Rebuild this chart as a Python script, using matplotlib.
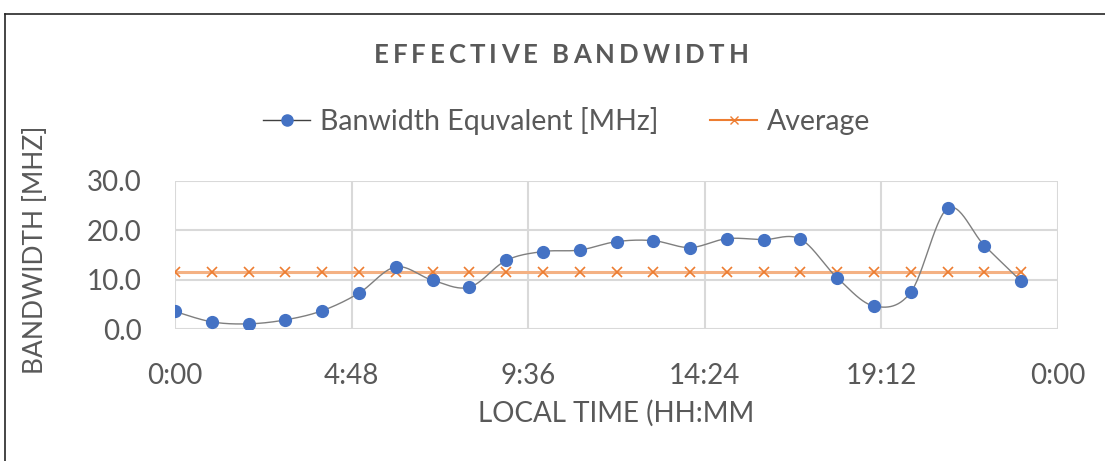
import numpy as np
import matplotlib
matplotlib.use("Agg")
import matplotlib.pyplot as plt
from matplotlib.font_manager import FontProperties
from matplotlib.lines import Line2D

plt.rcParams['font.family'] = ['Lato', 'DejaVu Sans']

# hourly samples, x in fractions of a day
hours = np.arange(24)
bandwidth = [3.6, 1.5, 1.1, 1.9, 3.75, 7.3, 12.6, 9.9, 8.5, 13.9, 15.7, 16.0,
             17.7, 17.9, 16.5, 18.3, 18.1, 18.2, 10.4, 4.7, 7.5, 24.4, 16.9, 9.7]
x_ticks = [0.0, 0.2, 0.4, 0.6, 0.8, 1.0]
y_ticks = [0, 10, 20, 30]

x = hours / 24.0
y = np.array(bandwidth)
avg = np.full_like(y, y.mean())

TXT = '#595959'
GRID = '#d9d9d9'
BLUE = '#4472C4'
ORANGE = '#ED7D31'


def smooth(xs, ys, n=30):
    # Catmull-Rom style smoothing like a spreadsheet "smoothed line"
    px, py = [], []
    m = len(xs)
    for i in range(m - 1):
        x0, x1 = xs[i], xs[i + 1]
        y0, y1 = ys[i], ys[i + 1]
        ym = ys[i - 1] if i > 0 else y0
        yp = ys[i + 2] if i + 2 < m else y1
        xm = xs[i - 1] if i > 0 else x0
        xp = xs[i + 2] if i + 2 < m else x1
        c1 = (x0 + (x1 - xm) / 6, y0 + (y1 - ym) / 6)
        c2 = (x1 - (xp - x0) / 6, y1 - (yp - y0) / 6)
        t = np.linspace(0, 1, n)
        b0, b1, b2, b3 = (1 - t) ** 3, 3 * t * (1 - t) ** 2, 3 * t ** 2 * (1 - t), t ** 3
        px.extend(b0 * x0 + b1 * c1[0] + b2 * c2[0] + b3 * x1)
        py.extend(b0 * y0 + b1 * c1[1] + b2 * c2[1] + b3 * y1)
    return np.array(px), np.array(py)


def fmt_time(v):
    mins = int(round(v * 24 * 60)) % (24 * 60)
    return f"{mins // 60}:{mins % 60:02d}"


def spaced_text(fig, x0, y0, s, size, weight, spacing):
    # horizontal text with extra letter spacing, centred on (x0, y0) in pixels
    r = fig.canvas.get_renderer()
    fp = FontProperties(family=['Lato', 'DejaVu Sans'], size=size, weight=weight)
    widths = [r.get_text_width_height_descent(c, fp, ismath=False)[0] for c in s]
    widths = [w if c != ' ' else size * 0.35 for c, w in zip(s, widths)]
    total = sum(widths) + spacing * (len(s) - 1)
    pos = x0 - total / 2
    W, H = fig.bbox.width, fig.bbox.height
    for c, w in zip(s, widths):
        fig.text((pos + w / 2) / W, y0 / H, c, fontproperties=fp, color=TXT,
                 ha='center', va='center')
        pos += w + spacing


fig = plt.figure(figsize=(11.05, 4.61), dpi=100)
ax = fig.add_axes([175 / 1105, 1 - 329.3 / 461, 883 / 1105, 148.6 / 461])

sx, sy = smooth(x, y)
ax.plot(sx, sy, color='#7f7f7f', lw=1.0, zorder=3)
ax.plot(x, y, 'o', color=BLUE, ms=8.5, zorder=4)
ax.plot(x, avg, color='#F4B183', lw=2.2, zorder=2)
ax.plot(x, avg, 'x', color=ORANGE, ms=7, mew=1.2, zorder=2)

ax.set_xlim(0, 1)
ax.set_ylim(0, 30)
ax.set_xticks(x_ticks)
ax.set_xticklabels([fmt_time(v) for v in x_ticks])
ax.set_yticks(y_ticks)
ax.set_yticklabels([f"{v:.1f}" for v in y_ticks])
ax.grid(True, color=GRID, lw=1.5)
ax.set_axisbelow(True)
for sp in ax.spines.values():
    sp.set_visible(False)
ax.tick_params(length=0, labelsize=20, labelcolor=TXT)
ax.tick_params(axis='x', pad=24)
ax.tick_params(axis='y', pad=24)

fig.text(616 / 1105, 1 - 413 / 461, 'LOCAL TIME (HH:MM', fontsize=20,
         color=TXT, ha='center', va='center')
fig.text(36 / 1105, 1 - 250 / 461, 'BANDWIDTH [MHZ]', fontsize=19,
         color=TXT, ha='center', va='center', rotation=90)

handles = [Line2D([], [], color='#404040', lw=1, marker='o', mfc=BLUE, mec=BLUE, ms=8),
           Line2D([], [], color=ORANGE, lw=1.5, marker='x', mec=ORANGE, ms=6)]
fig.legend(handles, ['Banwidth Equvalent [MHz]', 'Average'], loc='center',
           bbox_to_anchor=(567 / 1105, 1 - 121 / 461), ncol=2, frameon=False,
           fontsize=20.5, labelcolor=TXT, handlelength=1.65, handletextpad=0.35,
           columnspacing=1.8)

# outer chart frame
fig.add_artist(Line2D([5 / 1105, 1], [1 - 14 / 461] * 2, color='#262626', lw=1.2))
fig.add_artist(Line2D([5 / 1105] * 2, [0, 1 - 14 / 461], color='#262626', lw=1.2))

spaced_text(fig, 561, 461 - 55, 'EFFECTIVE BANDWIDTH', 18.5, 'bold', 4.0)

fig.savefig('out.png', dpi=100)
